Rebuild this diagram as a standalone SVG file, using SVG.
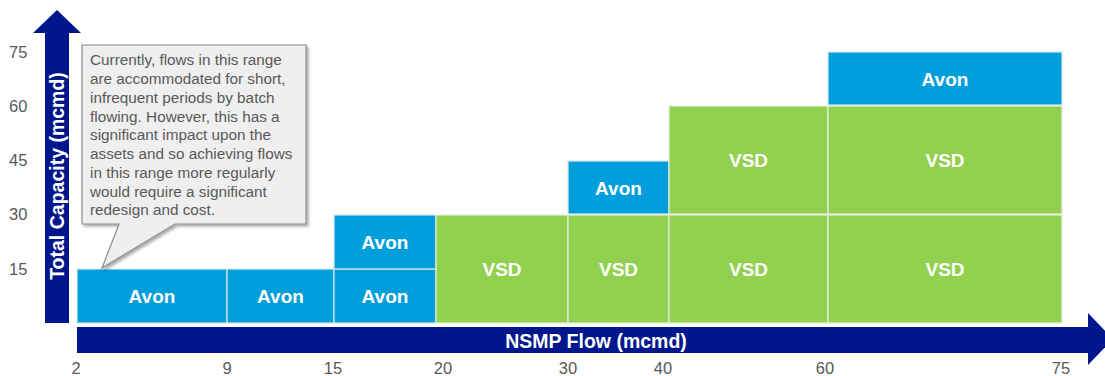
<svg xmlns="http://www.w3.org/2000/svg" width="1105" height="376" viewBox="0 0 1105 376">
  <defs>
    <style>
      .avon { fill: #009EDB; stroke: #dbe8ef; stroke-width: 1.2; }
      .vsd { fill: #92D050; stroke: #e4f0dc; stroke-width: 1.2; }
      .lbl { font-family: "Liberation Sans", Arial, sans-serif; font-size: 19px; font-weight: bold; fill: #ffffff; text-anchor: middle; }
      .tick { font-family: "Liberation Sans", Arial, sans-serif; font-size: 16.5px; fill: #595959; }
      .axis { fill: #00168C; }
      .title { font-family: "Liberation Sans", Arial, sans-serif; font-size: 19.5px; font-weight: bold; fill: #ffffff; text-anchor: middle; }
      .note { font-family: "Liberation Sans", Arial, sans-serif; font-size: 15.3px; fill: #595959; }
    </style>
    <filter id="shadow" x="-10%" y="-10%" width="120%" height="120%">
      <feGaussianBlur in="SourceAlpha" stdDeviation="1.5"/>
      <feOffset dx="2" dy="2" result="b"/>
      <feComponentTransfer><feFuncA type="linear" slope="0.35"/></feComponentTransfer>
      <feMerge><feMergeNode/><feMergeNode in="SourceGraphic"/></feMerge>
    </filter>
  </defs>
  <rect width="1105" height="376" fill="#ffffff"/>

  <!-- axes (arrows) -->
  <g id="connectors">
    <g id="y-axis">
      <rect class="axis" x="45" y="32" width="24" height="291"/>
      <polygon class="axis" points="33,33 57,10 81,33"/>
      <text class="title" transform="translate(64,176) rotate(-90)">Total Capacity (mcmd)</text>
    </g>
    <g id="x-axis">
      <rect class="axis" x="77" y="327" width="1013" height="26"/>
      <polygon class="axis" points="1088,313 1113,339 1088,365"/>
      <text class="title" x="596" y="348">NSMP Flow (mcmd)</text>
    </g>
  </g>

  <!-- y ticks -->
  <g id="y-ticks" class="tick">
    <text x="9" y="58">75</text>
    <text x="9" y="112">60</text>
    <text x="9" y="166">45</text>
    <text x="9" y="220">30</text>
    <text x="9" y="275">15</text>
  </g>

  <!-- x ticks -->
  <g id="x-ticks" class="tick" text-anchor="middle">
    <text x="76" y="374">2</text>
    <text x="227" y="374">9</text>
    <text x="333" y="374">15</text>
    <text x="443" y="374">20</text>
    <text x="568" y="374">30</text>
    <text x="663" y="374">40</text>
    <text x="825" y="374">60</text>
    <text x="1061" y="374">75</text>
  </g>

  <!-- capacity blocks -->
  <g id="block-2-9"><rect class="avon" x="77" y="269" width="150" height="54"/><text class="lbl" x="152" y="303">Avon</text></g>
  <g id="block-9-15"><rect class="avon" x="227" y="269" width="107" height="54"/><text class="lbl" x="280.5" y="303">Avon</text></g>
  <g id="block-15-20-low"><rect class="avon" x="334" y="269" width="102" height="54"/><text class="lbl" x="385" y="303">Avon</text></g>
  <g id="block-15-20-high"><rect class="avon" x="334" y="215" width="102" height="54"/><text class="lbl" x="385" y="249">Avon</text></g>
  <g id="block-20-30"><rect class="vsd" x="436" y="215" width="132" height="108"/><text class="lbl" x="502" y="276">VSD</text></g>
  <g id="block-30-40-low"><rect class="vsd" x="568" y="215" width="101" height="108"/><text class="lbl" x="618.5" y="276">VSD</text></g>
  <g id="block-30-40-high"><rect class="avon" x="568" y="161" width="101" height="53"/><text class="lbl" x="618.5" y="195">Avon</text></g>
  <g id="block-40-60-low"><rect class="vsd" x="669" y="215" width="159" height="108"/><text class="lbl" x="748.5" y="276">VSD</text></g>
  <g id="block-40-60-high"><rect class="vsd" x="669" y="106" width="159" height="108"/><text class="lbl" x="748.5" y="167">VSD</text></g>
  <g id="block-60-75-low"><rect class="vsd" x="828" y="215" width="234" height="108"/><text class="lbl" x="945" y="276">VSD</text></g>
  <g id="block-60-75-mid"><rect class="vsd" x="828" y="106" width="234" height="108"/><text class="lbl" x="945" y="167">VSD</text></g>
  <g id="block-60-75-top"><rect class="avon" x="828" y="52" width="234" height="53"/><text class="lbl" x="945" y="86">Avon</text></g>

  <!-- callout note -->
  <g id="callout">
    <path d="M82,45 H306 V224 H175 L102,268 L119,224 H82 Z" fill="#efefef" stroke="#8c8c8c" stroke-width="1.2" filter="url(#shadow)"/>
    <text class="note">
      <tspan x="90" y="65">Currently, flows in this range</tspan>
      <tspan x="90" y="84">are accommodated for short,</tspan>
      <tspan x="90" y="103">infrequent periods by batch</tspan>
      <tspan x="90" y="122">flowing. However, this has a</tspan>
      <tspan x="90" y="140">significant impact upon the</tspan>
      <tspan x="90" y="159">assets and so achieving flows</tspan>
      <tspan x="90" y="178">in this range more regularly</tspan>
      <tspan x="90" y="197">would require a significant</tspan>
      <tspan x="90" y="215">redesign and cost.</tspan>
    </text>
  </g>
</svg>
